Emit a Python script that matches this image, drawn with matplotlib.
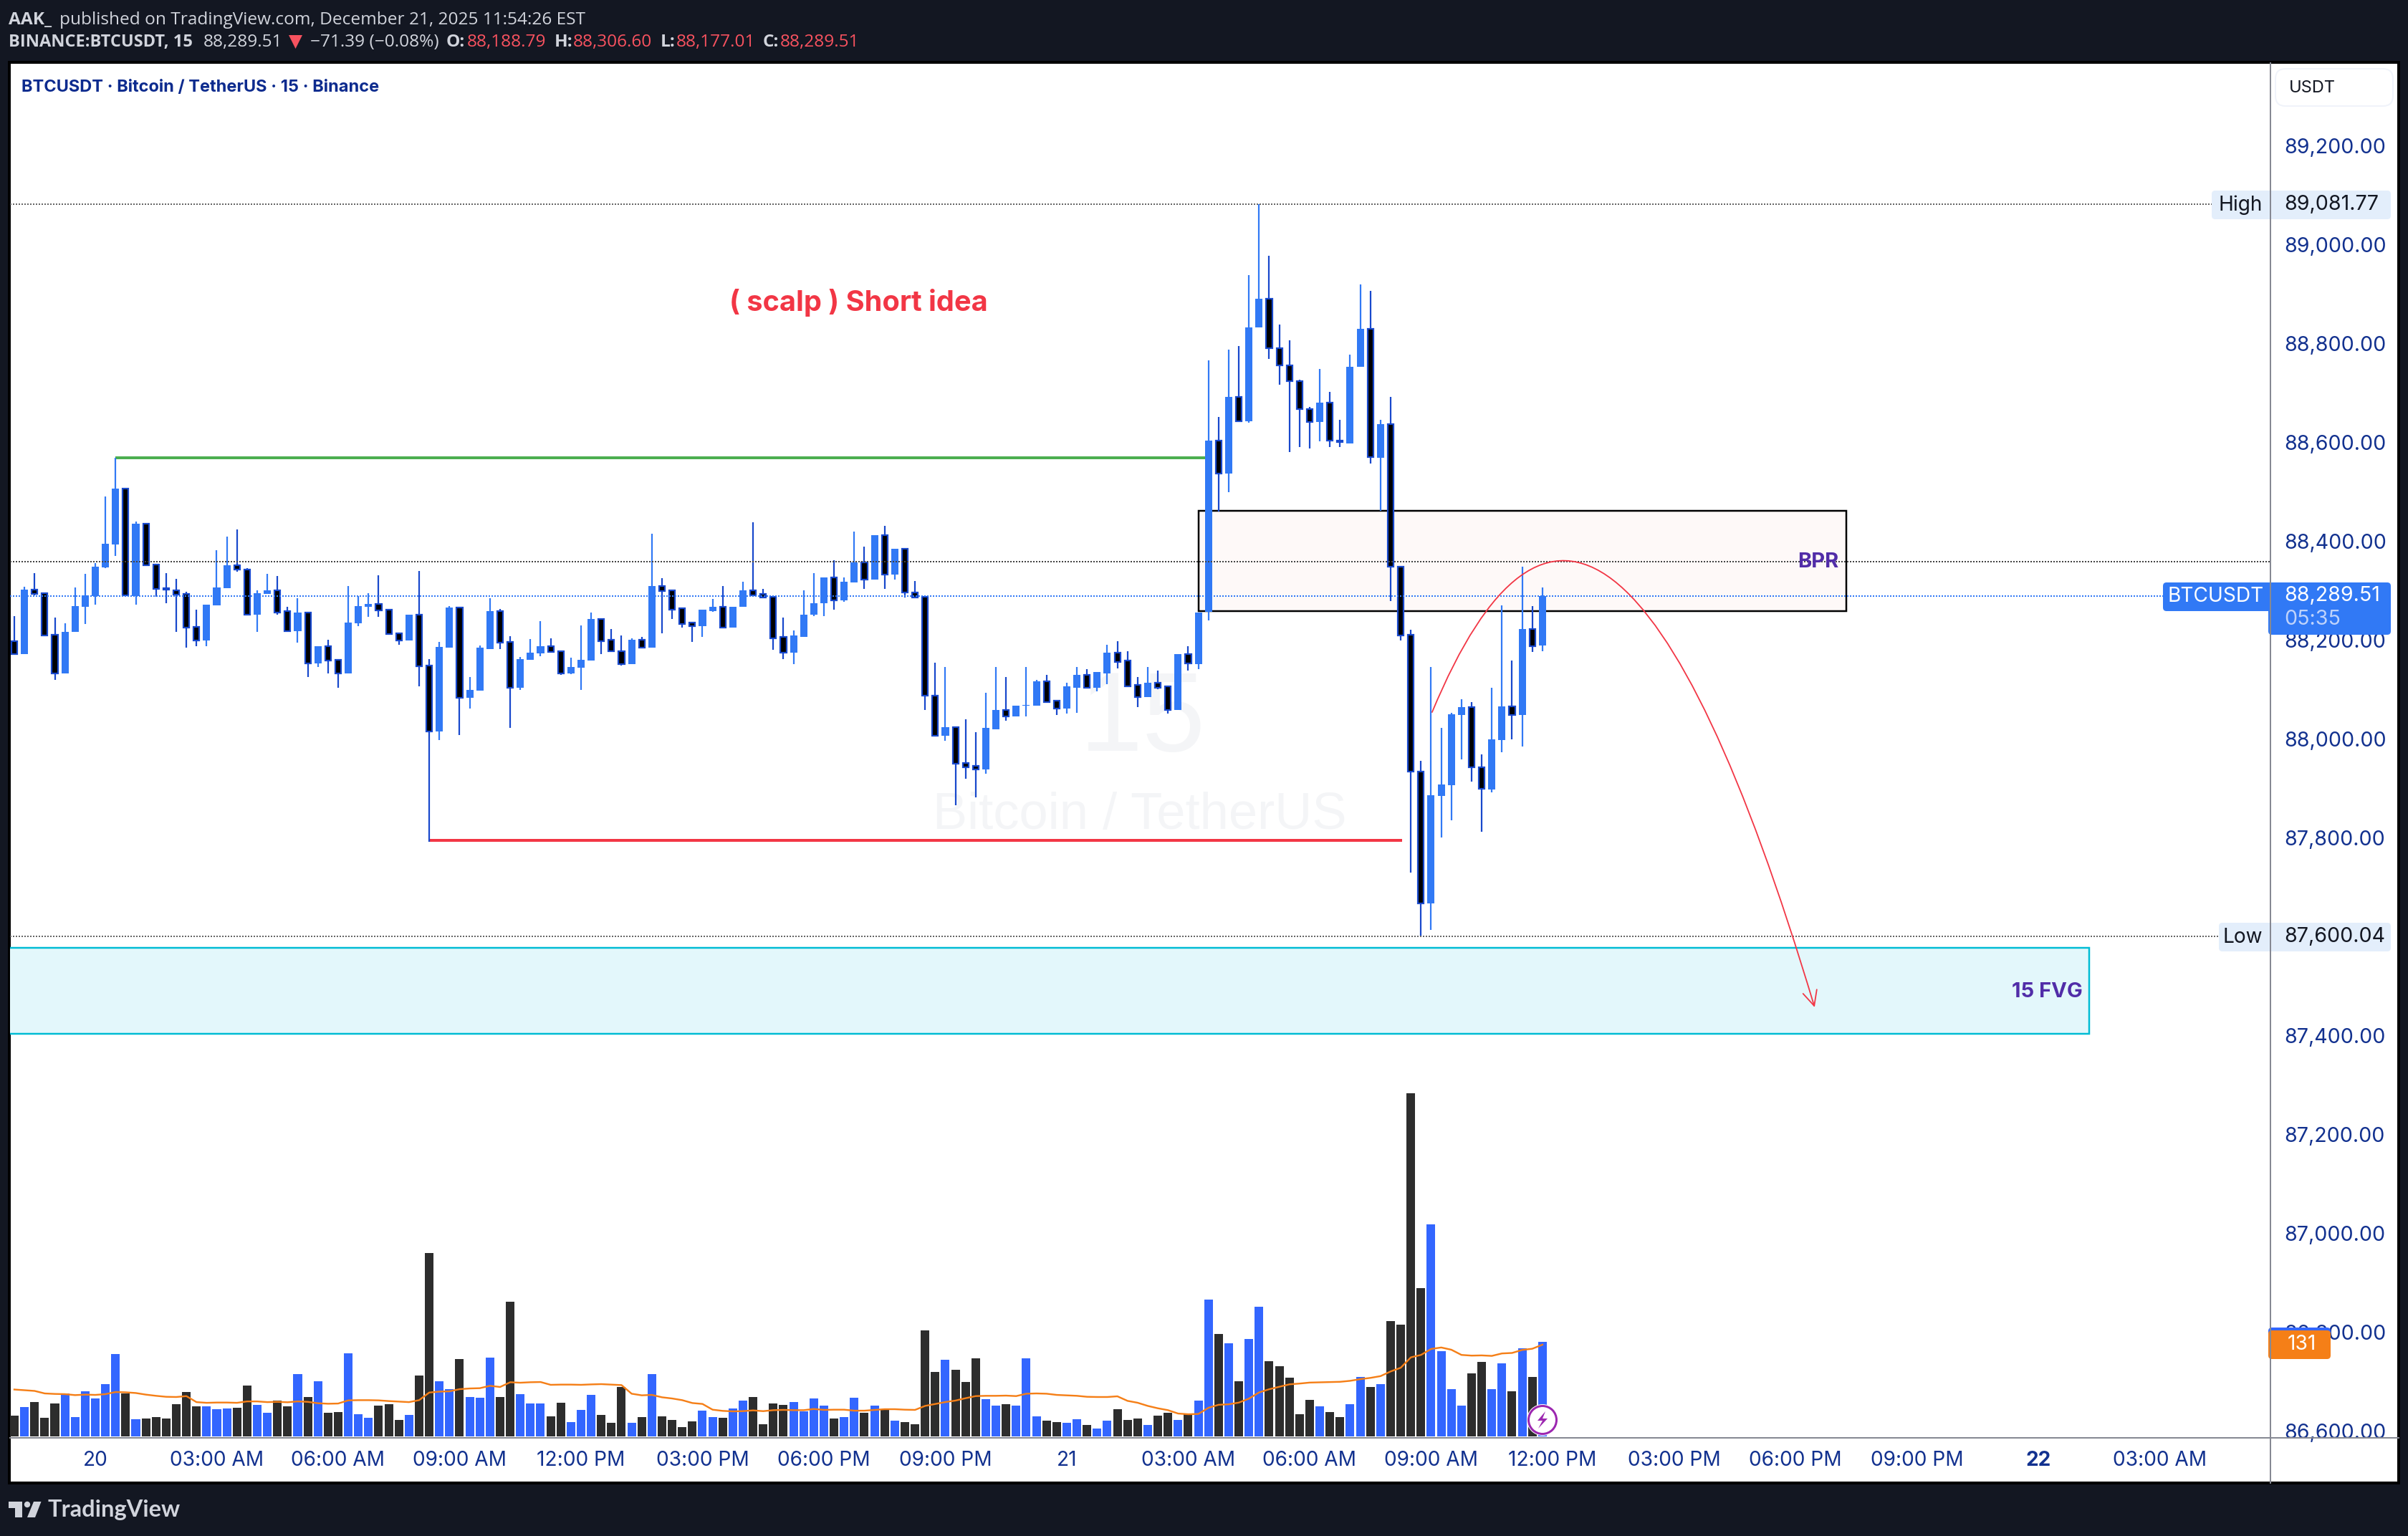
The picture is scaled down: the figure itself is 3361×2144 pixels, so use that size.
import numpy as np
import matplotlib
matplotlib.use("Agg")
import matplotlib.pyplot as plt
from matplotlib.patches import Rectangle, FancyBboxPatch, Polygon, Circle, FancyArrowPatch
from matplotlib.path import Path

# candles
opens = [88198, 88171, 88302, 88295, 88211, 88133, 88216, 88268, 88289, 88347,
         88394, 88506, 88289, 88436, 88353, 88305, 88301, 88294, 88226, 88199,
         88270, 88305, 88352, 88343, 88252, 88294, 88300, 88258, 88218, 88255,
         88153, 88188, 88160, 88133, 88234, 88268, 88273, 88262, 88214, 88199,
         88252, 88149, 88015, 88185, 88266, 88083, 88098, 88182, 88258, 88197,
         88104, 88160, 88173, 88188, 88178, 88133, 88144, 88159, 88242, 88200,
         88178, 88152, 88201, 88185, 88310, 88300, 88264, 88235, 88228, 88259,
         88268, 88225, 88267, 88300, 88293, 88287, 88206, 88175, 88207, 88251,
         88274, 88326, 88280, 88316, 88357, 88322, 88412, 88332, 88384, 88297,
         88287, 88088, 88007, 88024, 87952, 87945, 87939, 88020, 88059, 88045,
         88067, 88067, 88116, 88077, 88061, 88104, 88130, 88104, 88133, 88175,
         88158, 88109, 88085, 88113, 88106, 88058, 88171, 88152, 88257, 88604,
         88537, 88692, 88642, 88833, 88891, 88790, 88756, 88724, 88667, 88641,
         88680, 88604, 88598, 88753, 88829, 88569, 88637, 88348, 88211, 87934,
         87668, 87885, 87906, 88049, 88064, 87943, 87898, 87998, 88066, 88048,
         88223, 88188.79]
highs = [88249, 88308, 88336, 88295, 88246, 88234, 88307, 88334, 88356, 88491,
         88569, 88506, 88440, 88436, 88353, 88336, 88324, 88298, 88262, 88272,
         88382, 88410, 88424, 88346, 88301, 88334, 88330, 88268, 88285, 88255,
         88188, 88201, 88160, 88310, 88289, 88295, 88331, 88262, 88214, 88252,
         88340, 88162, 88197, 88269, 88266, 88125, 88189, 88284, 88263, 88208,
         88166, 88202, 88239, 88204, 88178, 88165, 88230, 88255, 88242, 88222,
         88210, 88204, 88207, 88415, 88325, 88300, 88264, 88235, 88261, 88283,
         88309, 88268, 88318, 88439, 88304, 88287, 88245, 88220, 88300, 88336,
         88326, 88362, 88326, 88420, 88389, 88412, 88431, 88384, 88384, 88319,
         88287, 88154, 88146, 88024, 88040, 88013, 88094, 88146, 88125, 88068,
         88145, 88120, 88129, 88077, 88114, 88146, 88141, 88136, 88190, 88198,
         88177, 88126, 88145, 88139, 88106, 88171, 88188, 88255, 88766, 88651,
         88787, 88795, 88938, 89081.77, 88978, 88838, 88807, 88727, 88671, 88749,
         88702, 88646, 88778, 88919, 88907, 88646, 88692, 88348, 88221, 87955,
         88146, 88022, 88053, 88081, 88075, 87969, 88103, 88270, 88159, 88348,
         88269, 88306.60]
lows = [88171, 88171, 88291, 88210, 88119, 88133, 88216, 88233, 88271, 88346,
        88370, 88290, 88272, 88352, 88288, 88274, 88216, 88185, 88187, 88187,
        88270, 88305, 88338, 88252, 88217, 88294, 88252, 88218, 88195, 88126,
        88146, 88132, 88104, 88133, 88228, 88247, 88247, 88212, 88191, 88199,
        88106, 87792, 87998, 88185, 88008, 88062, 88098, 88182, 88182, 88022,
        88099, 88160, 88168, 88176, 88130, 88131, 88099, 88159, 88172, 88177,
        88148, 88152, 88183, 88185, 88214, 88242, 88225, 88197, 88207, 88257,
        88225, 88225, 88267, 88288, 88286, 88181, 88162, 88151, 88207, 88248,
        88249, 88261, 88277, 88316, 88303, 88322, 88303, 88322, 88286, 88286,
        88059, 88007, 87997, 87866, 87919, 87882, 87930, 88019, 88037, 88045,
        88046, 88067, 88075, 88048, 88051, 88053, 88104, 88097, 88111, 88143,
        88107, 88065, 88085, 88100, 88051, 88058, 88138, 88141, 88240, 88460,
        88499, 88642, 88640, 88833, 88769, 88717, 88580, 88590, 88587, 88602,
        88590, 88591, 88598, 88753, 88557, 88461, 88279, 88199, 87730, 87600.04,
        87613, 87800, 87836, 87959, 87914, 87812, 87892, 87973, 87999, 87984,
        88176, 88177.01]
closes = [88171, 88302, 88294, 88210, 88133, 88217, 88269, 88291, 88349, 88395,
          88506, 88290, 88436, 88352, 88303, 88302, 88292, 88225, 88199, 88272,
          88307, 88352, 88342, 88252, 88295, 88300, 88256, 88218, 88255, 88153,
          88188, 88159, 88133, 88236, 88269, 88273, 88260, 88212, 88199, 88252,
          88147, 88015, 88186, 88266, 88083, 88099, 88184, 88258, 88195, 88104,
          88162, 88175, 88188, 88176, 88133, 88146, 88160, 88242, 88198, 88177,
          88152, 88201, 88185, 88310, 88299, 88262, 88233, 88228, 88261, 88268,
          88225, 88268, 88300, 88291, 88286, 88204, 88175, 88209, 88252, 88275,
          88326, 88280, 88318, 88357, 88322, 88412, 88332, 88384, 88296, 88286,
          88087, 88007, 88024, 87950, 87943, 87939, 88022, 88059, 88045, 88067,
          88069, 88116, 88075, 88061, 88106, 88130, 88104, 88135, 88175, 88156,
          88107, 88085, 88113, 88104, 88058, 88171, 88153, 88255, 88604, 88537,
          88692, 88642, 88833, 88891, 88790, 88756, 88724, 88667, 88641, 88680,
          88603, 88600, 88753, 88829, 88570, 88637, 88349, 88209, 87934, 87668,
          87886, 87908, 88050, 88064, 87943, 87899, 87999, 88066, 88049, 88223,
          88188, 88289.51]

volumes = [29.7, 41.9, 49.1, 26.6, 47.1, 61.4, 27.6, 64.4, 54.2, 74.7,
           117.6, 61.4, 24.6, 25.6, 27.6, 25.6, 46, 63.4, 43, 43,
           38.9, 39.9, 40.9, 72.6, 45, 33.8, 51.2, 43, 89, 56.3,
           78.8, 33.8, 34.8, 118.7, 31.7, 26.6, 44, 46, 23.5, 30.7,
           87, 261.9, 78.8, 67.5, 110.5, 56.3, 55.2, 112.5, 56.3, 192.3,
           60.4, 47.1, 47.1, 28.6, 48.1, 20.5, 37.9, 59.3, 30.7, 19.4,
           70.6, 19.4, 27.6, 89, 28.6, 23.5, 13.3, 21.5, 36.8, 27.6,
           26.6, 39.9, 51.2, 56.3, 17.4, 47.1, 45, 49.1, 35.8, 54.2,
           44, 25.6, 27.6, 55.2, 33.8, 44, 38.9, 22.5, 20.5, 17.4,
           151.4, 92.1, 109.5, 95.1, 77.7, 111.5, 53.2, 44, 46, 44,
           111.5, 28.6, 22.5, 20.5, 19.4, 24.6, 16.4, 11.3, 22.5, 38.9,
           23.5, 25.6, 16.4, 29.7, 33.8, 23.5, 31.7, 51.2, 195.4, 146.4,
           133, 78.7, 139.4, 185.2, 107.6, 100.2, 84, 31.8, 52.2, 43,
           34.6, 27.5, 45.9, 85, 70.6, 74.8, 164.8, 159.8, 489.7, 212,
           303, 121.7, 67.4, 43.7, 90, 106.5, 67.4, 104.4, 64.6, 126,
           85, 135]
volume_ma = [67, 66, 65, 61.4, 60.7, 60.4, 59, 59.7, 59.3, 60.4,
             63.4, 63, 62, 59.7, 58, 56.6, 56.3, 57.6, 49, 48,
             48.4, 48.4, 48, 50, 50, 49, 49.4, 48.8, 50, 49.4,
             47.4, 46.7, 47, 51.5, 51.8, 51.8, 51.5, 50.5, 49.8, 49,
             51.8, 62.7, 64, 64.4, 67.5, 68.5, 68.9, 72.3, 70.6, 77.4,
             76.7, 77.4, 77.7, 73.7, 74, 74, 73.7, 74.3, 74.7, 74,
             73.3, 61, 58.7, 59.3, 55.9, 54.2, 51.8, 47.7, 46.4, 38.2,
             36.5, 35.8, 36.1, 37.2, 36.1, 37.5, 37.9, 37.5, 37.5, 39.2,
             37.9, 38.2, 38.2, 36.8, 36.8, 37.9, 38.9, 38.9, 38.2, 37.9,
             43.6, 46.4, 49.1, 51.2, 54.6, 57.6, 58, 58, 58.3, 57.6,
             61, 61.4, 61, 59.3, 58.7, 58, 56.6, 56.3, 56.3, 57.3,
             50.8, 48.1, 43.6, 40.2, 37.5, 32.7, 31.7, 32.1, 40.9, 45.2,
             45.9, 48.3, 54, 62.8, 67.4, 70.9, 74.4, 75.5, 76.9, 77.3,
             77.6, 78, 79.4, 81.8, 83.6, 86.1, 92.8, 98.1, 112.9, 116.4,
             124.9, 127, 123.8, 116.4, 115.4, 115.7, 115, 118.5, 119.2, 123.5,
             125.2, 131]

price_ticks = [86600, 86800, 87000, 87200, 87400, 87600, 87800, 88000, 88200,
               88400, 88600, 88800, 89000, 89200]
time_ticks = [8, 20, 32, 44, 56, 68, 80, 92, 104, 116, 128, 140, 152, 164, 176, 188, 200, 212]
time_labels = ["20", "03:00 AM", "06:00 AM", "09:00 AM", "12:00 PM", "03:00 PM", "06:00 PM", "09:00 PM",
               "21", "03:00 AM", "06:00 AM", "09:00 AM", "12:00 PM", "03:00 PM", "06:00 PM", "09:00 PM",
               "22", "03:00 AM"]

# levels and drawings on the chart
high_price = 89081.77
low_price = 87600.04
last_price = 88289.51
prev_close = 88359
green_level = (10, 117.7, 88568.7)
red_level = (41, 137.1, 87794.8)
bpr_zone = (117.0, 181.0, 88258, 88460.8)
fvg_zone = (-1, 205.0, 87403, 87577.4)
curve_points = [(140.1, 88054.2), (156.96, 88886.1), (177.9, 87457.1)]

W, H = 3362, 2144
DPI = 200
PX = 72 / DPI  # one output pixel in points

BG = "#131722"
UP = "#3179F5"
DOWN_EDGE = "#1848CC"
AXIS_TEXT = "#12318F"
AXIS_LINE = "#868993"
RED = "#F23645"
PURPLE = "#512DA8"

plt.rcParams["font.family"] = ["Inter", "DejaVu Sans"]

fig = plt.figure(figsize=(W / DPI, H / DPI), dpi=DPI, facecolor=BG)


def pixel_axes(zorder):
    a = fig.add_axes([0, 0, 1, 1], zorder=zorder)
    a.set_xlim(0, W)
    a.set_ylim(H, 0)
    a.axis("off")
    a.patch.set_alpha(0)
    return a


def pill(a, x0, y0, x1, y1, color, edge="none", r=5):
    a.add_patch(FancyBboxPatch((x0, y0), x1 - x0, y1 - y0, boxstyle=f"round,pad=0,rounding_size={r}",
                               facecolor=color, edgecolor=edge, linewidth=2 * PX))


# white panel and watermark
back = pixel_axes(0)
back.add_patch(Rectangle((13, 87), 3335, 1983, facecolor="white", edgecolor="black", linewidth=4 * PX))
back.text(1595, 1007, "15", color="#F4F5F7", fontsize=57, family="Liberation Sans", ha="center", va="center")
back.text(1591, 1138, "Bitcoin / TetherUS", color="#F4F5F7", fontsize=26, family="Liberation Sans",
          ha="center", va="center")

# price pane
ax = fig.add_axes([14 / W, (H - 2006) / H, (3168 - 14) / W, (2006 - 88) / H], zorder=3)
ax.patch.set_alpha(0)
ax.set_xlim(-0.425, 222.87)
ax.set_ylim(86587.6, 89367.3)
for s in ax.spines.values():
    s.set_visible(False)

o = np.array(opens)
h = np.array(highs)
l = np.array(lows)
c = np.array(closes)
x = np.arange(len(o))
up = c >= o

# zones go under the candles
ax.add_patch(Rectangle((bpr_zone[0], bpr_zone[2]), bpr_zone[1] - bpr_zone[0], bpr_zone[3] - bpr_zone[2],
                       facecolor="#FEF9F8", edgecolor="black", linewidth=2.5 * PX, zorder=1))
ax.add_patch(Rectangle((fvg_zone[0], fvg_zone[2]), fvg_zone[1] - fvg_zone[0], fvg_zone[3] - fvg_zone[2],
                       facecolor="#E3F7FB", edgecolor="#00BCD4", linewidth=2.5 * PX, zorder=1))

ax.hlines(green_level[2], green_level[0], green_level[1], color="#4CAF50", linewidth=4 * PX, zorder=2)
ax.hlines(red_level[2], red_level[0], red_level[1], color=RED, linewidth=4 * PX, zorder=2)

ax.vlines(x[up], l[up], h[up], color=UP, linewidth=2.2 * PX, zorder=3)
ax.vlines(x[~up], l[~up], h[~up], color=DOWN_EDGE, linewidth=2.2 * PX, zorder=3)
ax.bar(x[up], (c - o)[up], bottom=o[up], width=0.71, color=UP, linewidth=0, zorder=4)
ax.bar(x[~up], (o - c)[~up], bottom=c[~up], width=0.57, color="black", edgecolor=DOWN_EDGE,
       linewidth=2.2 * PX, zorder=4)

dots = (0, (1, 1))
ax.axhline(high_price, color="#666666", linewidth=2 * PX, linestyle=dots, zorder=5)
ax.axhline(low_price, color="#666666", linewidth=2 * PX, linestyle=dots, zorder=5)
ax.axhline(prev_close, color="#444444", linewidth=2 * PX, linestyle=dots, zorder=5)
ax.axhline(last_price, color=UP, linewidth=2 * PX, linestyle=dots, zorder=5)

ax.add_patch(FancyArrowPatch(path=Path(curve_points, [Path.MOVETO, Path.CURVE3, Path.CURVE3]),
                             arrowstyle="->,head_length=5,head_width=2.4", mutation_scale=1.5,
                             color=RED, linewidth=1.8 * PX, zorder=6))

ax.text(2566, 784, "BPR", transform=back.transData, color=PURPLE, fontsize=10.5, fontweight="bold",
        ha="right", va="center", zorder=7)
ax.text(2907, 1384, "15 FVG", transform=back.transData, color=PURPLE, fontsize=10.5, fontweight="bold",
        ha="right", va="center", zorder=7)
ax.text(1198, 422, "( scalp ) Short idea", transform=back.transData, color=RED, fontsize=14.3,
        fontweight="bold", ha="center", va="center", zorder=7)
ax.text(30, 122, "BTCUSDT · Bitcoin / TetherUS · 15 · Binance", transform=back.transData, color="#0D2B8E",
        fontsize=8.5, fontweight="bold", ha="left", va="center", zorder=7)

# volume overlay with its own scale
vol = ax.twinx()
vol.set_zorder(ax.get_zorder() - 1)
vol.patch.set_alpha(0)
vol.set_ylim(-1, 1961)
vol.set_yticks([])
for s in vol.spines.values():
    s.set_visible(False)
vol_colors = ["#3366FF" if u else "#2D2D2D" for u in up]
vol.bar(x, volumes, width=0.85, color=vol_colors, linewidth=0, zorder=1)
vol.plot(x, volume_ma, color="#F57F17", linewidth=2.4 * PX, zorder=2)

# twinx moves the price labels to the left, so set them up after it
ax.yaxis.tick_right()
ax.set_yticks(price_ticks)
ax.set_yticklabels([f"{p:,.2f}" for p in price_ticks], va="center_baseline")
ax.set_xticks(time_ticks)
ax.set_xticklabels(time_labels)
ax.tick_params(axis="y", length=0, pad=20 * PX, labelsize=10.3, labelcolor=AXIS_TEXT)
ax.tick_params(axis="x", length=0, pad=19 * PX, labelsize=10.1, labelcolor=AXIS_TEXT)
ax.get_xticklabels()[16].set_fontweight("bold")

# everything that sits on top of the axes
top = pixel_axes(6)

pill(top, 3176, 96, 3340, 148, "white", edge="#F0F3FA", r=14)
top.text(3195, 123, "USDT", color="#131722", fontsize=8.5, va="center")

for label, value, x0, yc in [("High", high_price, 3087, 286), ("Low", low_price, 3097, 1308)]:
    pill(top, x0, yc - 20, 3337, yc + 20, "#E3EEFB")
    top.text(3158, yc, label, color="#131722", fontsize=10.1, va="center", ha="right")
    top.text(3188, yc, f"{value:,.2f}", color="#131722", fontsize=10.3, va="center")

pill(top, 3019, 813, 3172, 853, UP)
pill(top, 3166, 813, 3337, 886, UP)
top.text(3093, 833, "BTCUSDT", color="white", fontsize=10.1, ha="center", va="center")
top.text(3188, 831, f"{last_price:,.2f}", color="white", fontsize=10.3, va="center")
top.text(3188, 864, "05:35", color="#BFD3FB", fontsize=10.3, va="center")

pill(top, 3166, 1853, 3253, 1893, "#3366FF")
pill(top, 3166, 1857, 3253, 1897, "#F57F17")
top.text(3213, 1877, f"{volume_ma[-1]:.0f}", color="white", fontsize=10.1, ha="center", va="center")

# axis lines
top.plot([3169, 3169], [88, 2070], color=AXIS_LINE, linewidth=2 * PX)
top.plot([14, 3348], [2006.5, 2006.5], color=AXIS_LINE, linewidth=2 * PX)

# flash icon on the last bar
top.add_patch(Circle((2153, 1982), 22, facecolor="white", edgecolor="none"))
top.add_patch(Circle((2153, 1982), 19.5, facecolor="white", edgecolor="#9C27B0", linewidth=3 * PX))
top.add_patch(Polygon([(2157, 1970), (2146, 1983), (2153, 1983), (2147, 1994), (2160, 1980), (2153, 1980)],
                      facecolor="#9C27B0", edgecolor="none"))

# header
header = {"family": "Open Sans", "fontsize": 8.8, "va": "center"}
top.text(12, 28, "AAK_", color="#D1D4DC", fontweight="bold", **header)
top.text(83, 28, "published on TradingView.com, December 21, 2025 11:54:26 EST", color="#D1D4DC", **header)
top.text(12, 59, "BINANCE:BTCUSDT, 15", color="#D1D4DC", fontweight="bold", family="Open Sans",
         fontsize=8.5, va="center")
top.text(284, 59, "88,289.51", color="#D1D4DC", **header)
top.add_patch(Polygon([(403, 49), (422, 49), (412.5, 68)], facecolor="#F7525F", edgecolor="none"))
top.text(433, 59, "−71.39 (−0.08%)", color="#D1D4DC", **header)
for label, lx, value, vx in [("O:", 623, "88,188.79", 652), ("H:", 774, "88,306.60", 800),
                             ("L:", 922, "88,177.01", 944), ("C:", 1065, "88,289.51", 1089)]:
    top.text(lx, 59, label, color="#D1D4DC", fontweight="bold", **header)
    top.text(vx, 59, value, color="#F7525F", **header)

# footer logo
logo = "#D1D4DC"
top.add_patch(Polygon([(12, 2096), (31, 2096), (31, 2118), (21, 2118), (21, 2105), (12, 2105)], facecolor=logo))
top.add_patch(Circle((38, 2100), 4.2, facecolor=logo))
top.add_patch(Polygon([(47, 2096), (57.5, 2096), (49, 2118), (38, 2118)], facecolor=logo))
top.text(67, 2107, "TradingView", color=logo, fontsize=11.75, fontweight="bold", va="center", family="Lato")

fig.savefig("out.png", dpi=DPI, facecolor=BG)
